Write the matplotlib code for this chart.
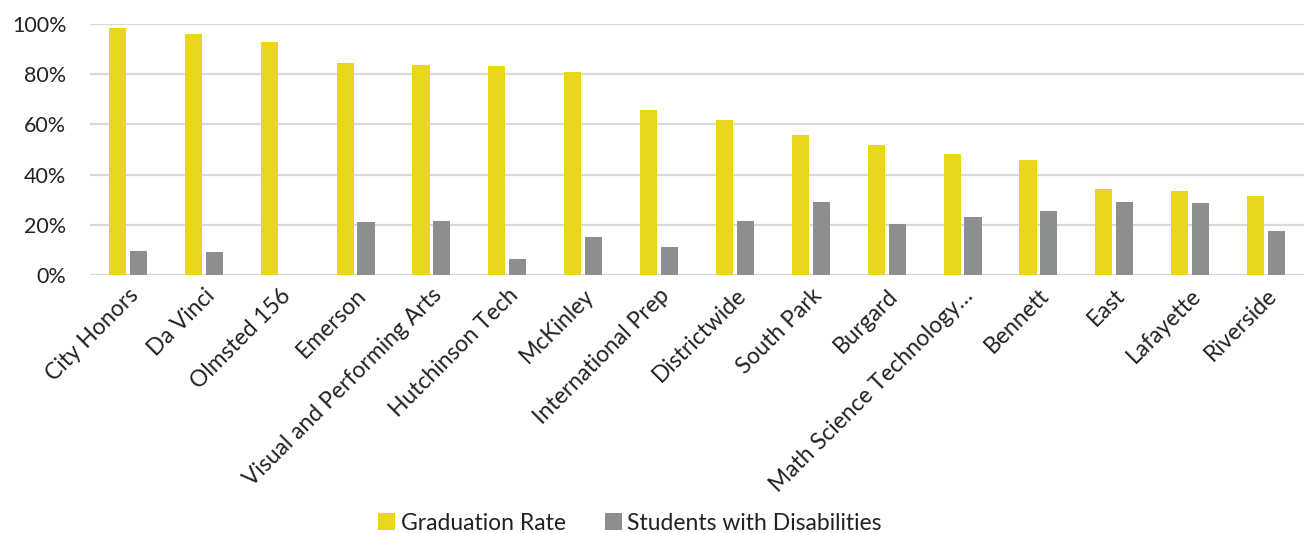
import numpy as np
import matplotlib.pyplot as plt

schools = ['City Honors', 'Da Vinci', 'Olmsted 156', 'Emerson', 'Visual and Performing Arts',
           'Hutchinson Tech', 'McKinley', 'International Prep', 'Districtwide', 'South Park',
           'Burgard', 'Math Science Technology…', 'Bennett', 'East', 'Lafayette', 'Riverside']
grad_rate = [98.3, 96.0, 93.0, 84.3, 83.5, 83.4, 80.9, 65.6, 61.7, 55.9, 51.7, 48.4, 46.0, 34.2, 33.4, 31.5]
swd_rate = [9.7, 9.0, 0, 21.3, 21.4, 6.4, 15.3, 11.3, 21.4, 28.9, 20.3, 23.1, 25.5, 29.0, 28.5, 17.4]

plt.rcParams['font.family'] = ['Lato', 'DejaVu Sans']

fig = plt.figure(figsize=(13.04, 5.33), dpi=100)
ax = fig.add_axes([0.069, 0.484, 0.931, 0.471])

x = np.arange(len(schools))
w = 0.225
ax.bar(x - w / 2 - 0.025, np.array(grad_rate) / 100, w, color='#E8D71E', label='Graduation Rate', zorder=3)
ax.bar(x + w / 2 + 0.025, np.array(swd_rate) / 100, w, color='#8C8F8E', label='Students with Disabilities', zorder=3)

ax.set_xlim(-0.5, len(schools) - 0.5)
ax.set_ylim(0, 1.0)
ax.set_yticks(np.arange(0, 1.01, 0.2))
ax.set_yticklabels([f'{int(v * 100)}%' for v in np.arange(0, 1.01, 0.2)], fontsize=15.5, color='#222222')
ax.set_xticks(x)
ax.set_xticklabels(schools, rotation=45, ha='right', rotation_mode='anchor', fontsize=16.5, color='#222222')
ax.tick_params(axis='x', length=0, pad=7)
ax.tick_params(axis='y', length=0, pad=17)
ax.yaxis.grid(True, color='#D9D9D9', linewidth=1.6, zorder=0)
ax.set_axisbelow(True)
for s in ax.spines.values():
    s.set_visible(False)

# legend sits a bit left of the figure centre, as in the original
fig.legend(loc='lower center', bbox_to_anchor=(0.483, -0.04), ncol=2, frameon=False, fontsize=16.5,
           handlelength=0.75, handleheight=0.75, handletextpad=0.25, columnspacing=1.7,
           labelcolor='#222222')

fig.savefig('out.png', dpi=100)
